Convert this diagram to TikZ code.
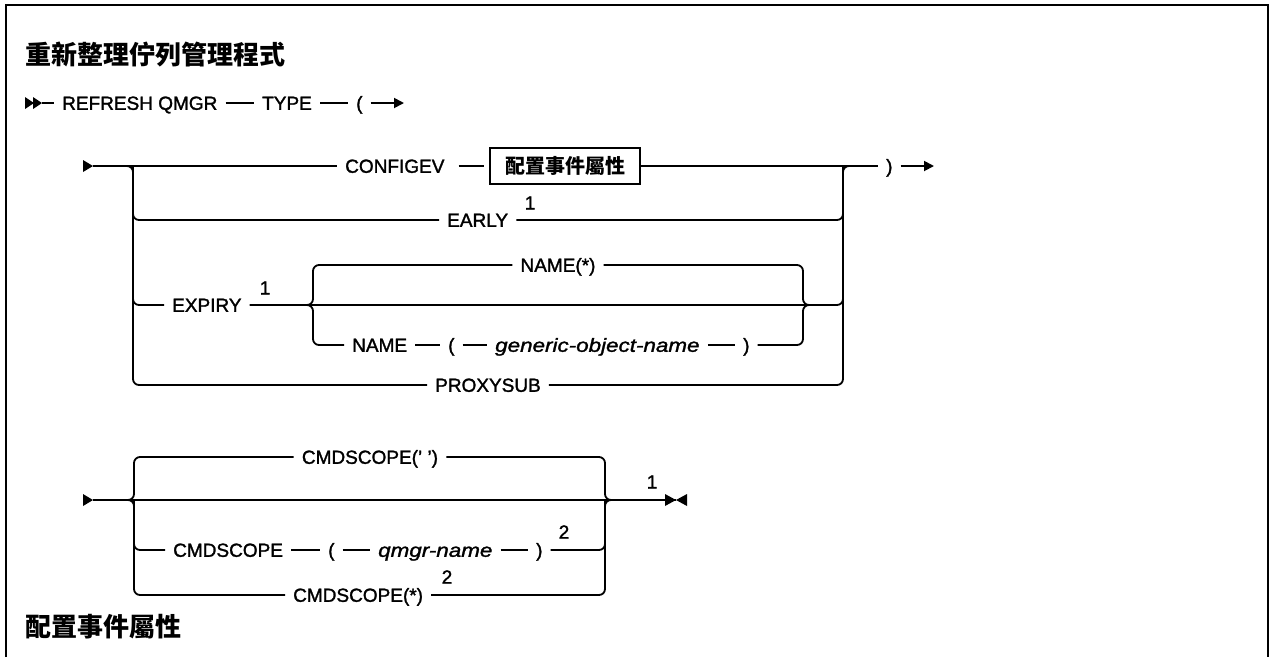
\documentclass[tikz,border=0pt]{standalone}
\usepackage{fontspec}
\setmainfont{Liberation Sans}[FakeBold=1.5]
\newfontfamily\cjk{Noto Sans CJK TC}
\newfontfamily\itf{Liberation Sans}[FakeStretch=1.18,FakeBold=1.5]
\usetikzlibrary{arrows.meta}
\begin{document}
\begin{tikzpicture}[x=1pt,y=-1pt,
  rail/.style={line width=1.8pt, rounded corners=6pt},
  kw/.style={font=\fontsize{19}{22}\selectfont, inner xsep=8pt, inner ysep=0pt, text height=13.6pt, text depth=0pt},
  var/.style={kw, font=\itf\fontsize{19}{22}\selectfont\itshape},
  note/.style={font=\fontsize{19}{22}\selectfont, inner sep=0pt},
  ttl/.style={font=\cjk\bfseries\fontsize{26}{30}\selectfont, inner sep=0pt, anchor=west},
  boxed/.style={draw, line width=1.5pt, font=\cjk\bfseries\fontsize{20}{24}\selectfont, minimum width=150pt, minimum height=36pt, inner sep=0pt},
  arr/.style={line width=1.8pt, -{Triangle[length=10pt,width=10pt]}},
  west/.style={anchor=west}
]
\useasboundingbox (0,0) rectangle (1274,657);
% frame
\draw[line width=2.5pt] (6,657) -- (6,5) -- (1268,5) -- (1268,657);

% titles
\node[ttl] (title1) at (25,54) {重新整理佇列管理程式};
\node[ttl] (title2) at (25,627) {配置事件屬性};

% ---------- row 1
\fill (25,97) -- (34,103) -- (25,109) -- cycle;
\fill (33,97) -- (42,103) -- (33,109) -- cycle;
\coordinate (s1) at (42,103);
\node[kw,west] (refresh) at (54,103) {REFRESH QMGR};
\node[kw,west] (type) at (254,103) {TYPE};
\node[kw,west] (lp1) at (348,103) {(};
\coordinate (e1) at (404,103);
\draw[rail] (s1) -- (refresh.west);
\draw[rail] (refresh.east) -- (type.west);
\draw[rail] (type.east) -- (lp1.west);
\draw[arr] (lp1.east) -- (e1);

% ---------- block B
\fill (83,160) -- (93,166) -- (83,172) -- cycle;
\coordinate (s2) at (93,166);
\coordinate (BLin) at (121,166);
\coordinate (BL) at (133,166);
\coordinate (BR) at (843,166);
\coordinate (BRout) at (855,166);
\node[kw,west] (configev) at (337,166) {CONFIGEV};
\node[boxed] (box) at (565,166) {配置事件屬性};
\node[kw,west] (rp1) at (878,166) {)};
\coordinate (e2) at (934,166);
\draw[rail] (s2) -- (configev.west);
\draw[rail, shorten <=6pt, shorten >=5pt] (configev.east) -- (box.west);
\draw[rail] (box.east) -- (rp1.west);
\draw[arr] (rp1.east) -- (e2);

\node[kw,west] (early) at (439,220) {EARLY};
\node[note] (n1) at (530,203) {1};
\node[kw,west] (expiry) at (164,305) {EXPIRY};
\node[note] (n2) at (265,288) {1};
\node[kw,west] (proxysub) at (427,385) {PROXYSUB};

\draw[rail] (BLin) -- (BL) |- (proxysub.west);
\draw[rail] (BL) |- (early.west);
\draw[rail] (BL) |- (expiry.west);
\draw[rail] (proxysub.east) -| (BR) -- (BRout);
\draw[rail] (early.east) -| (BR);
\draw[rail] (expiry.east) -| (BR);

% sub bracket of EXPIRY
\coordinate (SL) at (313,305);
\coordinate (SR) at (803,305);
\coordinate (SRout) at (815,305);
\node[kw] (namestar) at (558,265) {NAME(*)};
\node[kw,west] (name) at (344,345) {NAME};
\node[kw,west] (lp2) at (440,345) {(};
\node[var,west] (generic) at (487,345) {generic-object-name};
\node[kw,west] (rp2) at (735,345) {)};
\draw[rail] (expiry.east) -- (SL) |- (namestar.west);
\draw[rail] (expiry.east) -- (SL) |- (name.west);
\draw[rail] (namestar.east) -| (SR) -- (SRout);
\draw[rail] (rp2.east) -| (SR) -- (SRout);
\draw[rail] (name.east) -- (lp2.west);
\draw[rail] (lp2.east) -- (generic.west);
\draw[rail] (generic.east) -- (rp2.west);

% ---------- block C
\fill (83,494) -- (93,500) -- (83,506) -- cycle;
\coordinate (s3) at (93,500);
\coordinate (CLin) at (122,500);
\coordinate (CL) at (134,500);
\coordinate (CR) at (605,500);
\coordinate (CRout) at (617,500);
\coordinate (e3) at (676,500);
\node[kw] (cmdtop) at (370,457) {CMDSCOPE(' ')};
\node[kw,west] (cmdq) at (165,550) {CMDSCOPE};
\node[kw,west] (lp3) at (320,550) {(};
\node[var,west] (qmgr) at (370,550) {qmgr-name};
\node[kw,west] (rp3) at (528,550) {)};
\node[note] (n3) at (564,532) {2};
\node[kw,west] (cmdstar) at (285,595) {CMDSCOPE(*)};
\node[note] (n4) at (447,577) {2};
\node[note] (n5) at (652,482) {1};

\draw[rail] (s3) -- (e3);
\draw[rail] (CLin) -- (CL) |- (cmdtop.west);
\draw[rail] (CLin) -- (CL) |- (cmdstar.west);
\draw[rail] (CL) |- (cmdq.west);
\draw[rail] (cmdtop.east) -| (CR) -- (CRout);
\draw[rail] (cmdstar.east) -| (CR) -- (CRout);
\draw[rail] (rp3.east) -| (CR);
\draw[rail] (cmdq.east) -- (lp3.west);
\draw[rail] (lp3.east) -- (qmgr.west);
\draw[rail] (qmgr.east) -- (rp3.west);

% end marker
\fill (665,494) -- (676,500) -- (665,506) -- cycle;
\fill (687,494) -- (676,500) -- (687,506) -- cycle;
\end{tikzpicture}
\end{document}
